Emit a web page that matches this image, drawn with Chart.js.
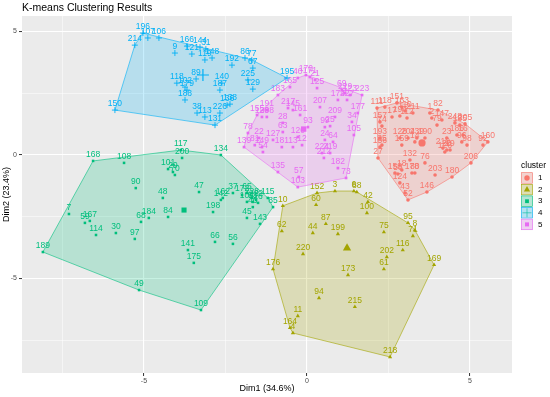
<!DOCTYPE html>
<html>
<head>
<meta charset="utf-8">
<script src="https://cdn.jsdelivr.net/npm/chart.js@4.4.1/dist/chart.umd.min.js"></script>
<style>
  html, body { margin: 0; padding: 0; background: #fff; }
</style>
</head>
<body>
<canvas id="chart" width="550" height="397"></canvas>
<script>
// cluster 1
const c1Ids  = ['111','118','151','163','110','194','112','211','17','157','74','1','82','2','147','79','248','185','205','193','128','204','239','190','159','14','23','186','16','96','210','20','19','126','98','160','92','206','27','156','35','132','76','203','180','18','178','80','158','58','124','146','43','52'];
const c1Dim1 = [2.15,2.39,2.76,2.91,3.01,2.85,3.07,3.25,2.61,2.24,2.30,3.77,4.02,3.83,4.14,3.99,4.54,4.69,4.85,2.24,2.85,3.10,3.37,3.62,2.91,3.31,4.29,4.60,4.79,4.75,4.17,4.29,4.39,4.23,4.91,5.55,5.40,5.03,2.18,2.24,2.30,3.16,3.62,3.93,4.45,2.91,3.22,3.31,2.70,2.79,2.85,3.68,3.01,3.10];
const c1Dim2 = [1.90,1.94,2.11,1.94,1.78,1.58,1.50,1.70,1.54,1.34,1.17,1.70,1.82,1.50,1.42,1.21,1.30,1.21,1.26,0.69,0.69,0.69,0.69,0.69,0.40,0.53,0.69,0.81,0.81,0.53,0.28,0.20,0.20,0.12,0.40,0.53,0.40,-0.32,-0.12,0.32,0.40,-0.20,-0.32,-0.81,-0.89,-0.61,-0.73,-0.73,-0.73,-0.77,-1.13,-1.50,-1.54,-1.82];

// cluster 2
const c2Ids  = ['10','152','3','6','88','42','60','100','62','87','44','199','75','95','8','71','116','202','61','169','220','176','173','94','215','11','164','4','218'];
const c2Dim1 = [-0.74,0.31,0.86,1.44,1.53,1.87,0.28,1.84,-0.77,0.58,0.18,0.95,2.36,3.10,3.31,3.25,2.94,2.45,2.36,3.90,-0.12,-1.04,1.26,0.37,1.47,-0.28,-0.52,-0.43,2.55];
const c2Dim2 = [-2.06,-1.54,-1.46,-1.46,-1.50,-1.90,-2.02,-2.35,-3.08,-2.79,-3.16,-3.20,-3.12,-2.75,-3.04,-3.28,-3.85,-4.13,-4.62,-4.45,-4.01,-4.62,-4.86,-5.79,-6.15,-6.52,-7.00,-7.21,-8.18];

// cluster 3
const c3Ids  = ['168','108','90','7','59','167','114','30','97','68','184','189','49','109','117','200','134','101','29','70','47','48','84','142','162','37','172','65','198','104','228','222','53','26','46','115','85','45','143','66','56','141','175'];
const c3Dim1 = [-6.56,-5.61,-5.25,-7.30,-6.81,-6.66,-6.47,-5.86,-5.28,-5.09,-4.85,-8.10,-5.15,-3.25,-3.87,-3.83,-2.64,-4.26,-4.11,-4.05,-3.31,-4.42,-4.26,-2.64,-2.58,-2.27,-1.99,-1.84,-2.88,-1.84,-1.69,-1.56,-1.66,-1.50,-1.66,-1.20,-1.04,-1.84,-1.44,-2.82,-2.27,-3.65,-3.47];
const c3Dim2 = [-0.24,-0.32,-1.34,-2.39,-2.75,-2.67,-3.24,-3.16,-3.40,-2.71,-2.55,-3.93,-5.47,-6.28,0.20,-0.12,0.00,-0.57,-0.69,-0.81,-1.50,-1.74,-2.51,-1.82,-1.74,-1.54,-1.62,-1.54,-2.31,-1.90,-1.74,-1.82,-1.90,-1.94,-2.11,-1.74,-2.11,-2.55,-2.79,-3.52,-3.60,-3.85,-4.37];

// cluster 4
const c4Ids  = ['196','107','106','214','150','9','166','121','144','31','119','148','192','86','77','67','225','129','140','187','89','118','102','179','188','136','138','38','113','226','131','195'];
const c4Dim1 = [-5.03,-4.88,-4.54,-5.28,-5.89,-4.05,-3.68,-3.53,-3.28,-3.10,-3.13,-2.91,-2.30,-1.90,-1.69,-1.66,-1.81,-1.66,-2.61,-2.67,-3.40,-3.99,-3.74,-3.68,-3.74,-2.45,-2.36,-3.37,-3.13,-2.67,-2.82,-0.61];
const c4Dim2 = [4.94,4.74,4.74,4.45,1.82,4.13,4.41,4.09,4.37,4.29,3.85,3.93,3.64,3.93,3.85,3.52,3.04,2.67,2.91,2.63,3.08,2.91,2.75,2.63,2.23,2.02,2.06,1.70,1.54,1.70,1.21,3.12];

// cluster 5
const c5Ids  = ['139','78','22','81','149','54','155','191','130','208','183','165','40','170','171','21','125','217','145','161','207','28','63','120','127','93','181','13','12','135','57','103','73','182','219','224','212','24','64','99','25','209','34','177','105','69','229','123','223','174','227'];
const c5Dim1 = [-1.93,-1.81,-1.47,-1.60,-1.38,-1.35,-1.53,-1.23,-1.38,-1.23,-0.89,-0.52,-0.28,-0.03,0.09,0.25,0.31,-0.58,-0.43,-0.21,0.40,-0.74,-0.74,-0.28,-1.04,0.03,-0.77,-0.43,-0.15,-0.89,-0.25,-0.28,1.20,0.95,0.71,0.46,0.52,0.55,0.80,0.55,0.71,0.86,1.38,1.56,1.44,1.07,1.17,1.32,1.69,0.95,1.23];
const c5Dim2 = [0.32,0.89,0.69,0.40,0.32,0.12,1.62,1.82,1.54,1.54,2.43,2.75,3.12,3.24,3.16,3.04,2.71,1.90,1.82,1.62,1.94,1.30,0.93,0.73,0.61,1.13,0.32,0.32,0.40,-0.69,-0.89,-1.30,-0.93,-0.53,0.08,0.08,-0.12,0.61,0.53,1.13,1.17,1.54,1.34,1.70,0.81,2.63,2.51,2.43,2.43,2.23,2.23];

// cluster centres
const clusterNames = ['1','2','3','4','5'];
const centerDim1 = [3.53, 1.23, -3.77, -3.19, -0.10];
const centerDim2 = [0.49, -3.77, -2.23, 3.24, 1.05];

// axes
const tickValues = [-5, 0, 5];
const gridValues = [-7.5, -5, -2.5, 0, 2.5, 5];

const COLORS = ['#F8766D', '#A3A500', '#00BF7D', '#00B0F6', '#E76BF3'];
const SHAPES = ['circle', 'triangle', 'rect', 'cross', 'rect'];
const RADII = [1.8, 2.4, 1.8, 3, 1.9];
const FONT = '"Liberation Sans", Arial, sans-serif';

const clusters = [
  [c1Ids, c1Dim1, c1Dim2],
  [c2Ids, c2Dim1, c2Dim2],
  [c3Ids, c3Dim1, c3Dim2],
  [c4Ids, c4Dim1, c4Dim2],
  [c5Ids, c5Dim1, c5Dim2]
];

function alpha(hex, a) {
  const n = parseInt(hex.slice(1), 16);
  return `rgba(${n >> 16},${(n >> 8) & 255},${n & 255},${a})`;
}

// convex hull (monotone chain)
function hull(xs, ys) {
  const pts = xs.map((x, i) => [x, ys[i]]).sort((a, b) => a[0] - b[0] || a[1] - b[1]);
  const cross = (o, a, b) => (a[0] - o[0]) * (b[1] - o[1]) - (a[1] - o[1]) * (b[0] - o[0]);
  const lower = [], upper = [];
  for (const p of pts) {
    while (lower.length >= 2 && cross(lower[lower.length - 2], lower[lower.length - 1], p) <= 0) lower.pop();
    lower.push(p);
  }
  for (const p of pts.slice().reverse()) {
    while (upper.length >= 2 && cross(upper[upper.length - 2], upper[upper.length - 1], p) <= 0) upper.pop();
    upper.push(p);
  }
  lower.pop(); upper.pop();
  const h = lower.concat(upper);
  h.push(h[0]);
  return h.map(p => ({ x: p[0], y: p[1] }));
}

// hulls are drawn over points and labels, like the ggplot frame layer
const datasets = [];
clusters.forEach(([ids, d1, d2], k) => {
  datasets.push({
    type: 'line',
    data: hull(d1, d2),
    borderColor: COLORS[k],
    borderWidth: 0.6,
    backgroundColor: alpha(COLORS[k], 0.22),
    fill: 'shape',
    pointRadius: 0,
    tension: 0,
    order: 1
  });
  datasets.push({
    type: 'scatter',
    data: ids.map((id, i) => ({ x: d1[i], y: d2[i] })),
    ids: ids,
    pointStyle: SHAPES[k],
    pointRadius: RADII[k],
    borderWidth: k === 3 ? 0.9 : 0,
    backgroundColor: COLORS[k],
    borderColor: COLORS[k],
    order: 3
  });
  datasets.push({
    type: 'scatter',
    data: [{ x: centerDim1[k], y: centerDim2[k] }],
    pointStyle: SHAPES[k],
    pointRadius: RADII[k] * 2,
    borderWidth: k === 3 ? 1.2 : 0,
    backgroundColor: COLORS[k],
    borderColor: COLORS[k],
    order: 2
  });
});

const isMajor = v => tickValues.includes(v);

const panelBg = {
  id: 'panelBg',
  beforeDraw(chart) {
    const { ctx, chartArea: a } = chart;
    ctx.save();
    ctx.fillStyle = '#fff';
    ctx.fillRect(0, 0, chart.width, chart.height);
    ctx.fillStyle = '#EBEBEB';
    ctx.fillRect(a.left, a.top, a.right - a.left, a.bottom - a.top);
    ctx.restore();
  }
};

const pointLabels = {
  id: 'pointLabels',
  afterDatasetDraw(chart, args) {
    const ds = chart.data.datasets[args.index];
    if (!ds.ids) return;
    const ctx = chart.ctx;
    ctx.save();
    ctx.font = '8.5px ' + FONT;
    ctx.textAlign = 'center';
    ctx.textBaseline = 'alphabetic';
    ctx.fillStyle = ds.borderColor;
    args.meta.data.forEach((pt, i) => {
      ctx.fillText(ds.ids[i], pt.x, pt.y - 4);
    });
    ctx.restore();
  }
};

const extras = {
  id: 'extras',
  afterDraw(chart) {
    const ctx = chart.ctx;
    ctx.save();
    ctx.fillStyle = '#000';
    ctx.textBaseline = 'middle';
    ctx.textAlign = 'left';
    ctx.font = '10.5px ' + FONT;
    ctx.fillText('K-means Clustering Results', 22, 8);

    // legend
    ctx.font = '8.5px ' + FONT;
    ctx.fillText('cluster', 521, 166);
    clusterNames.forEach((name, k) => {
      const cy = 178 + k * 11.6;
      ctx.fillStyle = '#F2F2F2';
      ctx.fillRect(521, cy - 5.8, 12, 11.6);
      ctx.fillStyle = COLORS[k];
      Chart.helpers.drawPoint(ctx, {
        pointStyle: SHAPES[k],
        radius: RADII[k] * 1.5,
        borderWidth: k === 3 ? 1 : 0
      }, 527, cy);
      ctx.fillStyle = alpha(COLORS[k], 0.25);
      ctx.strokeStyle = COLORS[k];
      ctx.lineWidth = 0.6;
      ctx.fillRect(521.5, cy - 5.3, 11, 10.6);
      ctx.strokeRect(521.5, cy - 5.3, 11, 10.6);
      ctx.fillStyle = '#000';
      ctx.font = '8px ' + FONT;
      ctx.fillText(name, 538, cy);
    });
    ctx.restore();
  }
};

const scaleCommon = {
  type: 'linear',
  afterBuildTicks: s => { s.ticks = gridValues.map(v => ({ value: v })); },
  border: { display: false },
  grid: {
    color: '#FFFFFF',
    lineWidth: c => (c.tick && isMajor(c.tick.value)) ? 1.1 : 0.5,
    tickColor: c => (c.tick && isMajor(c.tick.value)) ? '#333333' : 'rgba(0,0,0,0)',
    tickLength: 3,
    tickWidth: 1
  },
  ticks: {
    autoSkip: false,
    maxRotation: 0,
    color: '#4D4D4D',
    font: { family: FONT, size: 7 },
    callback: v => isMajor(v) ? String(v) : ''
  }
};

new Chart(document.getElementById('chart'), {
  type: 'scatter',
  data: { datasets },
  options: {
    responsive: false,
    animation: false,
    devicePixelRatio: 1,
    layout: { padding: { top: 16, right: 38, left: 0, bottom: 0 } },
    plugins: { legend: { display: false }, tooltip: { enabled: false } },
    scales: {
      x: Object.assign({}, scaleCommon, {
        min: -8.74, max: 6.29,
        afterFit: s => { s.height = 24; },
        ticks: Object.assign({}, scaleCommon.ticks, { padding: 1 }),
        title: { display: true, text: 'Dim1 (34.6%)', color: '#000', font: { family: FONT, size: 9 }, padding: { top: 0, bottom: 3 } }
      }),
      y: Object.assign({}, scaleCommon, {
        min: -8.83, max: 5.63,
        afterFit: s => { s.width = 22; },
        ticks: Object.assign({}, scaleCommon.ticks, { padding: 2 }),
        title: { display: true, text: 'Dim2 (23.4%)', color: '#000', font: { family: FONT, size: 9 }, padding: { top: 1, bottom: 0 } }
      })
    }
  },
  plugins: [panelBg, pointLabels, extras]
});
</script>
</body>
</html>
